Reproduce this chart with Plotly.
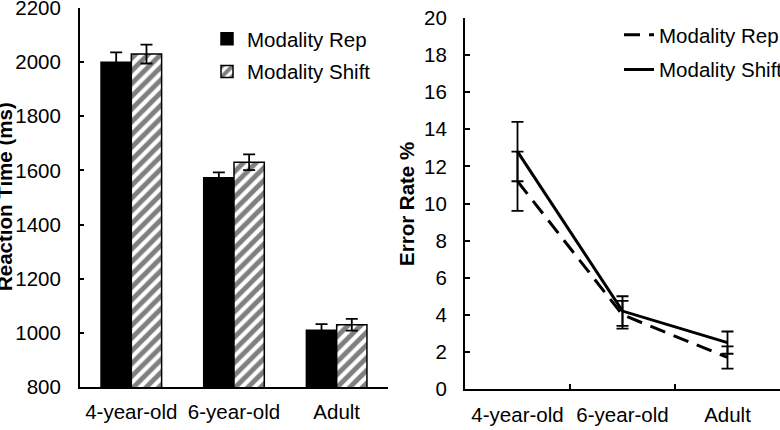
import plotly.graph_objects as go

categories = ["4-year-old", "6-year-old", "Adult"]
series_names = ["Modality Rep", "Modality Shift"]

rt_rep = [2000, 1573, 1010]
rt_rep_err = [36, 20, 22]
rt_shift = [2030, 1630, 1030]
rt_shift_err = [35, 29, 22]

er_rep = [11.2, 4.0, 1.7]
er_rep_err = [1.6, 0.75, 0.6]
er_shift = [12.8, 4.2, 2.5]
er_shift_err = [1.6, 0.8, 0.6]

rt_ticks = [800, 1000, 1200, 1400, 1600, 1800, 2000, 2200]
er_ticks = [0, 2, 4, 6, 8, 10, 12, 14, 16, 18, 20]

FONT = "Liberation Sans, Arial, sans-serif"
FS = 20.5
W, H = 780, 430

fig = go.Figure()

fig.add_trace(go.Bar(
    x=categories, y=rt_rep, name=series_names[0],
    marker=dict(color="black", line=dict(color="black", width=1.5)),
    error_y=dict(type="data", array=rt_rep_err, color="black", thickness=1.8, width=6),
    xaxis="x", yaxis="y", legend="legend", legendgroup="a",
))
fig.add_trace(go.Bar(
    x=categories, y=rt_shift, name=series_names[1],
    marker=dict(color="white", line=dict(color="black", width=1.5),
                pattern=dict(shape="/", fgcolor="black", bgcolor="white", size=9, solidity=0.55)),
    error_y=dict(type="data", array=rt_shift_err, color="black", thickness=1.8, width=6),
    xaxis="x", yaxis="y", legend="legend", legendgroup="b",
))

fig.add_trace(go.Scatter(
    x=categories, y=er_rep, name=series_names[0], mode="lines",
    line=dict(color="black", width=3, dash="16px,9px"),
    error_y=dict(type="data", array=er_rep_err, color="black", thickness=1.8, width=6),
    xaxis="x2", yaxis="y2", legend="legend2", legendgroup="c",
))
fig.add_trace(go.Scatter(
    x=categories, y=er_shift, name=series_names[1], mode="lines",
    line=dict(color="black", width=3),
    error_y=dict(type="data", array=er_shift_err, color="black", thickness=1.8, width=6),
    xaxis="x2", yaxis="y2", legend="legend2", legendgroup="d",
))

axis_common = dict(showline=True, linecolor="black", linewidth=2, showgrid=False,
                   zeroline=False, ticklabeloverflow="allow",
                   tickfont=dict(family=FONT, size=FS, color="black"))

fig.update_layout(
    width=W, height=H, margin=dict(l=0, r=0, t=0, b=0, autoexpand=False),
    paper_bgcolor="white", plot_bgcolor="white",
    font=dict(family=FONT, size=FS, color="black"),
    barmode="group", bargap=0.41, bargroupgap=0,
    xaxis=dict(domain=[80 / W, 388 / W], anchor="y", ticks="", ticklabelstandoff=5,
               **axis_common),
    yaxis=dict(domain=[1 - 387 / H, 1 - 8 / H], anchor="x", range=[800, 2200],
               tickvals=rt_ticks, ticks="inside", ticklen=4, tickwidth=1.5, tickcolor="black",
               ticklabelstandoff=13, **axis_common),
    xaxis2=dict(domain=[465 / W, 1.0], anchor="y2", range=[-0.5, 2.5],
                ticks="inside", tickson="boundaries", ticklen=5, tickwidth=1.5, tickcolor="black",
                ticklabelstandoff=6, **axis_common),
    yaxis2=dict(domain=[1 - 389 / H, 1 - 18 / H], anchor="x2", range=[0, 20],
                tickvals=er_ticks, ticks="inside", ticklen=5, tickwidth=1.5, tickcolor="black",
                ticklabelstandoff=12, **axis_common),
    legend=dict(x=207 / W, y=1 - 19 / H, xanchor="left", yanchor="top",
                bgcolor="rgba(0,0,0,0)", traceorder="grouped", tracegroupgap=3,
                font=dict(family=FONT, size=FS, color="black")),
    legend2=dict(x=619 / W, y=1 - 15 / H, xanchor="left", yanchor="top",
                 bgcolor="rgba(0,0,0,0)", traceorder="grouped", tracegroupgap=5,
                 font=dict(family=FONT, size=FS, color="black")),
    annotations=[
        dict(text="<b>Reaction Time (ms)</b>", textangle=-90, xref="paper", yref="paper",
             x=4 / W, y=1 - 197 / H, xanchor="center", yanchor="middle", showarrow=False,
             font=dict(family=FONT, size=FS, color="black")),
        dict(text="<b>Error Rate %</b>", textangle=-90, xref="paper", yref="paper",
             x=406 / W, y=1 - 204 / H, xanchor="center", yanchor="middle", showarrow=False,
             font=dict(family=FONT, size=FS, color="black")),
    ],
)

fig.write_html("out.html")
